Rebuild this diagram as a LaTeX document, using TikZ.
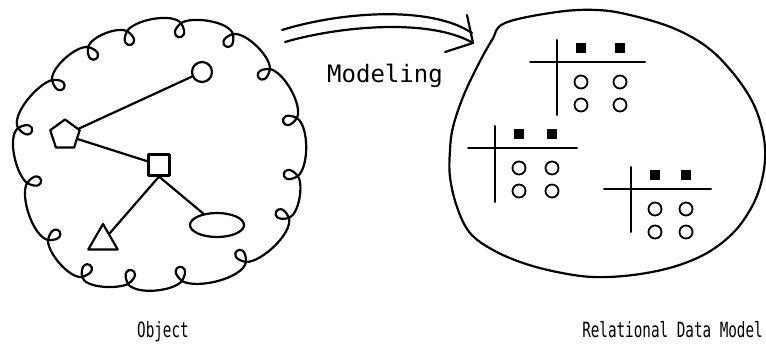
\documentclass[tikz,border=0pt]{standalone}
\usepackage{fontspec}
\setmonofont{DejaVu Sans Mono}
\newfontfamily\capfont[FakeStretch=0.68]{DejaVu Sans Mono}
\usetikzlibrary{shapes.geometric}
\tikzset{
  ink/.style={line width=2.2pt, line cap=round, line join=round},
  obj/.style={ink, draw, inner sep=0pt},
  lbl/.style={font=\ttfamily\fontsize{24}{24}\selectfont, inner sep=0pt, anchor=base},
  caption/.style={font=\capfont\fontsize{21}{22}\selectfont, inner sep=0pt, anchor=base},
  keybox/.style={fill=black, minimum size=10.5pt, inner sep=0pt},
  valdot/.style={draw, line width=1.8pt, circle, minimum size=13pt, inner sep=0pt},
  tabline/.style={line width=2pt, line cap=round},
  pics/reltab/.style 2 args={code={
    \draw[tabline] (-27,0) -- (#1+25,0);
    \draw[tabline] (0,22) -- (0,#2);
    \node[keybox] (k1) at (24,14) {};
    \node[keybox] (k2) at (#1,14) {};
    \node[valdot] (v11) at (24,-20) {};
    \node[valdot] (v12) at (#1,-20) {};
    \node[valdot] (v21) at (24,-43) {};
    \node[valdot] (v22) at (#1,-43) {};
  }}
}
\begin{document}
\begin{tikzpicture}[x=1pt,y=1pt]
\useasboundingbox (0,0) rectangle (766,-358);

% ---- the object: a curly cloud with a small graph inside ----
\foreach \n/\x/\y in {1/127/31, 2/181/23, 3/233/34, 4/270/69,
                      5/297/118, 6/298/176, 7/289/218, 8/246/262,
                      9/182/281, 10/128/284, 11/82/277, 12/48/240,
                      13/27/183, 14/18/128, 15/52/80, 16/88/47}
  \coordinate (c\n) at (\x,-\y);

\draw[ink] (c1)
  foreach \i/\a/\j/\b
    [evaluate=\a as \la using \a+40,
     evaluate=\a as \lb using \a-40,
     evaluate=\a as \ao using \a+130,
     evaluate=\b as \bi using \b-130]
    in {1/-75/2/-99, 2/-99/3/-121, 3/-121/4/-142, 4/-142/5/-165,
        5/-165/6/171, 6/171/7/154, 7/154/8/129, 8/129/9/100,
        9/100/10/76, 10/76/11/57, 11/57/12/37, 12/37/13/12,
        13/12/14/-11, 14/-11/15/-35, 15/-35/16/-56, 16/-56/1/-75}
  { .. controls +(\la:25) and +(\lb:25) .. (c\i)
    to[out=\ao, in=\bi, looseness=0.65] (c\j) };

\node[obj, circle, minimum size=20pt] (ocirc) at (202,-72) {};
\node[obj, regular polygon, regular polygon sides=5, minimum size=31pt] (opent) at (65,-135) {};
\node[obj, rectangle, minimum size=21pt] (osq) at (159,-165) {};
\node[obj, regular polygon, regular polygon sides=3, minimum size=34pt] (otri) at (103,-241) {};
\node[obj, ellipse, minimum width=54pt, minimum height=24pt] (oell) at (217,-225) {};

\draw[ink] (opent) -- (ocirc);
\draw[ink] (opent) -- (osq);
\draw[ink] (osq.south) -- (otri);
\draw[ink] (osq.south) -- (oell);

% ---- the modeling arrow ----
\coordinate (mA1) at (282,-30);
\coordinate (mA2) at (472,-33);
\coordinate (mB1) at (285,-42);
\coordinate (mB2) at (473,-43);
\coordinate (mHa) at (467,-15);
\coordinate (mHb) at (445,-52);
\draw[ink] (mA1) .. controls (340,-12) and (430,-5) .. (mA2);
\draw[ink] (mB1) .. controls (340,-26) and (430,-18) .. (mB2);
\draw[ink] (mHa) -- (mB2) -- (mHb);
\node[lbl] (modeling) at (385,-83) {Modeling};

% ---- the relational data model ----
\draw[ink] plot[smooth cycle, tension=0.6] coordinates {
  (505,-23) (557,-12) (597,-10) (630,-15) (673,-28) (707,-47)
  (733,-73) (753,-103) (763,-133) (765,-160) (760,-187) (750,-210)
  (733,-233) (707,-253) (673,-267) (633,-275) (593,-277) (557,-272)
  (523,-263) (493,-250) (470,-233) (457,-207) (450,-177) (450,-150)
  (453,-127) (463,-97) (477,-67) (492,-40)};

\pic (ta) at (557,-62) {reltab={63}{-53}};
\pic (tb) at (495,-148) {reltab={57}{-54}};
\pic (tc) at (631,-189) {reltab={55}{-43}};

% ---- captions ----
\node[caption] (objlbl) at (163,-337) {Object};
\node[caption, anchor=base east] (rdmlbl) at (763,-337) {Relational Data Model};
\end{tikzpicture}
\end{document}
